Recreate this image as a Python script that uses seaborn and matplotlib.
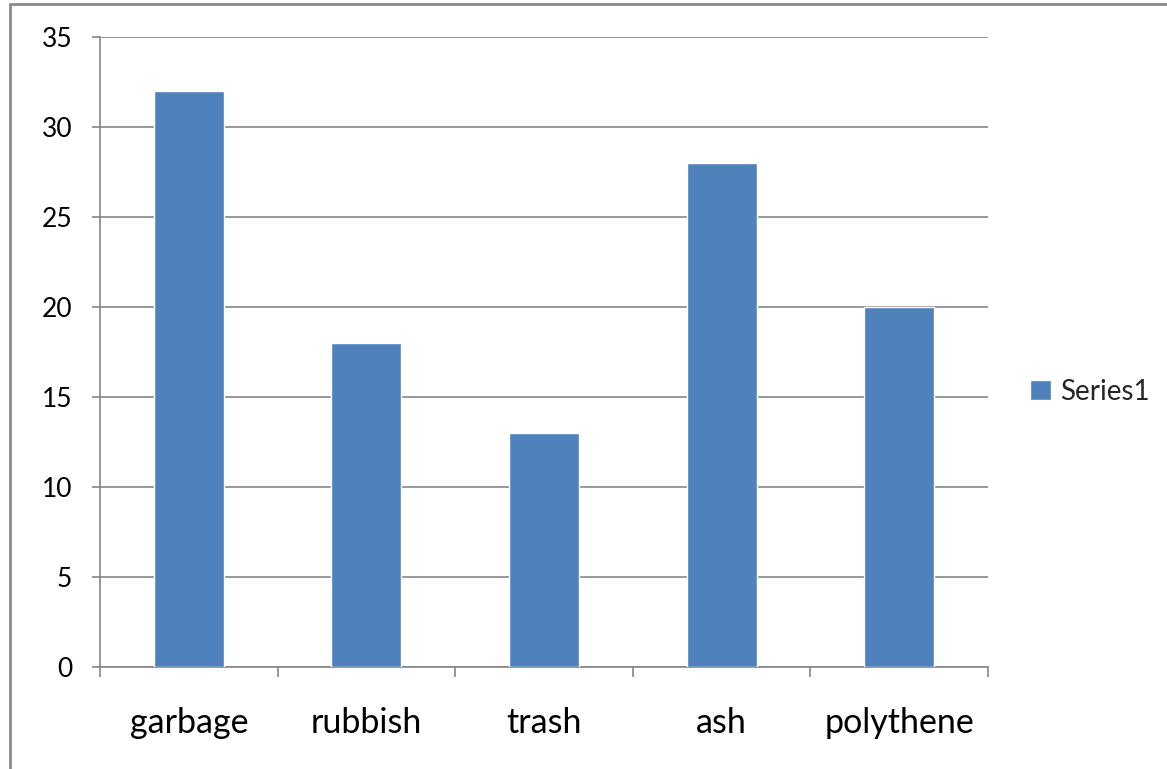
import matplotlib
matplotlib.use("Agg")
import matplotlib.pyplot as plt
from matplotlib.lines import Line2D
import seaborn as sns
import pandas as pd

categories = ["garbage", "rubbish", "trash", "ash", "polythene"]
values = [32, 18, 13, 28, 20]
series_name = "Series1"
y_ticks = [0, 5, 10, 15, 20, 25, 30, 35]

sns.set_theme(style="white")
plt.rcParams["font.family"] = ["Lato", "DejaVu Sans"]

df = pd.DataFrame({"category": categories, "value": values})

fig = plt.figure(figsize=(11.67, 7.69), dpi=100)
ax = fig.add_axes([100 / 1167, 1 - 667 / 769, 888 / 1167, 630 / 769])

bar_color = "#4F81BD"
grid_color = "#868686"

sns.barplot(data=df, x="category", y="value", color=bar_color, width=0.394,
            saturation=1, ax=ax, label=series_name, zorder=3)

ax.set_xlim(-0.5, len(categories) - 0.5)
ax.set_ylim(0, 35)
ax.set_yticks(y_ticks)
ax.set_yticklabels([str(t) for t in y_ticks], fontsize=19)
ax.yaxis.grid(True, color=grid_color, linewidth=1.2, zorder=0)
ax.set_axisbelow(True)

# category boundaries carry the tick marks, centers carry the labels
ax.set_xticks([i - 0.5 for i in range(len(categories) + 1)])
ax.set_xticklabels([])
ax.set_xticks(range(len(categories)), minor=True)
ax.set_xticklabels(categories, minor=True, fontsize=24.5)
ax.tick_params(axis="x", which="major", length=7.5, width=1.2, color=grid_color,
               direction="out", bottom=True)
ax.tick_params(axis="x", which="minor", length=0, pad=29, labelcolor="black")
ax.tick_params(axis="y", length=6, width=1.2, color=grid_color, direction="out",
               left=True, pad=14, labelcolor="black")

ax.set_xlabel("")
ax.set_ylabel("")
for side in ["top", "right"]:
    ax.spines[side].set_visible(False)
for side in ["left", "bottom"]:
    ax.spines[side].set_color(grid_color)
    ax.spines[side].set_linewidth(1.2)

leg = ax.legend(loc="center left", bbox_to_anchor=(1005 / 1167, 1 - 392 / 769),
                bbox_transform=fig.transFigure, frameon=False, fontsize=20,
                handlelength=0.75, handleheight=0.75, handletextpad=0.35)

# chart area frame
fig.add_artist(Line2D([10 / 1167, 10 / 1167], [0, 1 - 4 / 769],
                      transform=fig.transFigure, color="#8a8a8a", linewidth=2))
fig.add_artist(Line2D([10 / 1167, 1], [1 - 4 / 769, 1 - 4 / 769],
                      transform=fig.transFigure, color="#8a8a8a", linewidth=2))

fig.savefig("out.png", dpi=100)
